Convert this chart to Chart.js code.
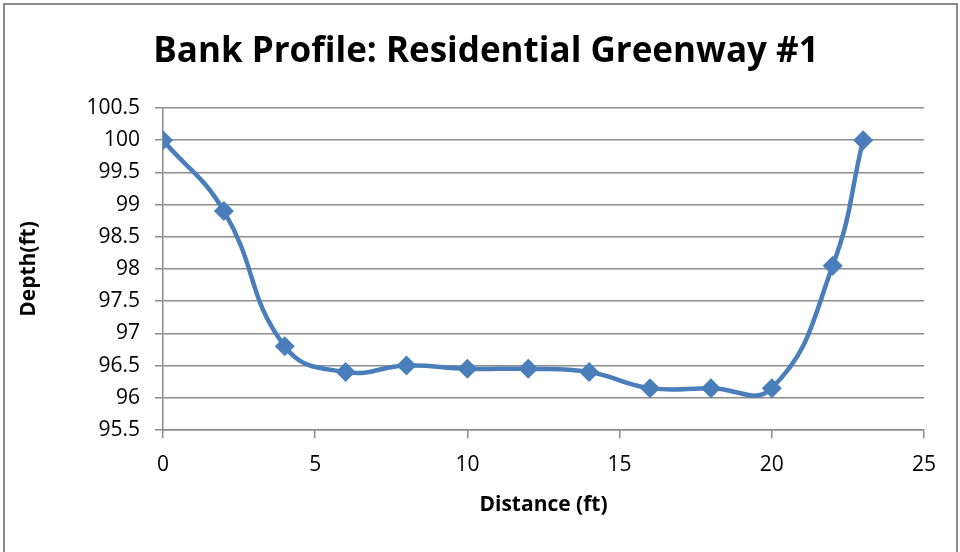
<!DOCTYPE html>
<html>
<head>
<meta charset="utf-8">
<script src="https://cdn.jsdelivr.net/npm/chart.js@4"></script>
<style>
  body { margin: 0; background: #fff; }
  #wrap { position: relative; width: 960px; height: 552px; overflow: hidden; }
  #frame { position: absolute; left: 3px; top: 3px; width: 951px; height: 600px; border: 2px solid #8c8c8c; }
  canvas { position: absolute; left: 0; top: 0; }
</style>
</head>
<body>
<div id="wrap">
  <div id="frame"></div>
  <canvas id="profileChart" width="960" height="552"></canvas>
</div>
<script>
let distances = [0, 2, 4, 6, 8, 10, 12, 14, 16, 18, 20, 22, 23];
let depths = [100, 98.9, 96.8, 96.4, 96.5, 96.45, 96.45, 96.4, 96.15, 96.15, 96.15, 98.05, 100];
let chartTitle = 'Bank Profile: Residential Greenway #1';
let xTitle = 'Distance (ft)';
let yTitle = 'Depth(ft)';

let points = [];
for (let i = 0; i < distances.length; i++) {
  points.push({ x: distances[i], y: depths[i] });
}

let fontName = '"Open Sans", sans-serif';

let chart = new Chart(document.querySelector('#profileChart'), {
  type: 'line',
  data: {
    datasets: [{
      data: points,
      borderColor: '#4a7ebb',
      backgroundColor: '#4a7ebb',
      borderWidth: 4.5,
      tension: 0.45,
      pointStyle: 'rectRot',
      pointRadius: 10,
      pointBorderWidth: 0
    }]
  },
  options: {
    responsive: false,
    animation: false,
    layout: { padding: { left: 12, right: 0, top: 0, bottom: 30 } },
    plugins: {
      legend: { display: false },
      tooltip: { enabled: false },
      title: {
        display: true,
        text: chartTitle,
        color: '#000',
        font: { family: fontName, size: 35, weight: 'bold', lineHeight: 1.2 },
        padding: { top: 31, bottom: 35 }
      }
    },
    scales: {
      x: {
        type: 'linear',
        min: 0,
        max: 25,
        ticks: { stepSize: 5, color: '#000', padding: 14, font: { family: fontName, size: 21 } },
        grid: { drawOnChartArea: false, drawTicks: true, tickLength: 8, color: '#8c8c8c', lineWidth: 1.5 },
        border: { color: '#8c8c8c', width: 1.5 },
        title: { display: true, text: xTitle, color: '#000', font: { family: fontName, size: 21, weight: 'bold' }, padding: { top: 8 } },
        afterFit: function (scale) { scale.height = 92; }
      },
      y: {
        min: 95.5,
        max: 100.5,
        ticks: {
          stepSize: 0.5,
          color: '#000',
          padding: 15,
          font: { family: fontName, size: 21 },
          callback: function (value) { return String(Number(value.toFixed(1))); }
        },
        grid: { tickLength: 8, color: '#8c8c8c', lineWidth: 1.5 },
        border: { color: '#8c8c8c', width: 1.5 },
        title: { display: true, text: yTitle, color: '#000', font: { family: fontName, size: 21, weight: 'bold' }, padding: { bottom: 2 } },
        afterFit: function (scale) { scale.width = 151; }
      },
      spacer: {
        position: 'right',
        min: 0,
        max: 1,
        ticks: { display: false },
        grid: { display: false },
        border: { display: false },
        afterFit: function (scale) { scale.width = 36; }
      }
    }
  }
});
</script>
</body>
</html>
